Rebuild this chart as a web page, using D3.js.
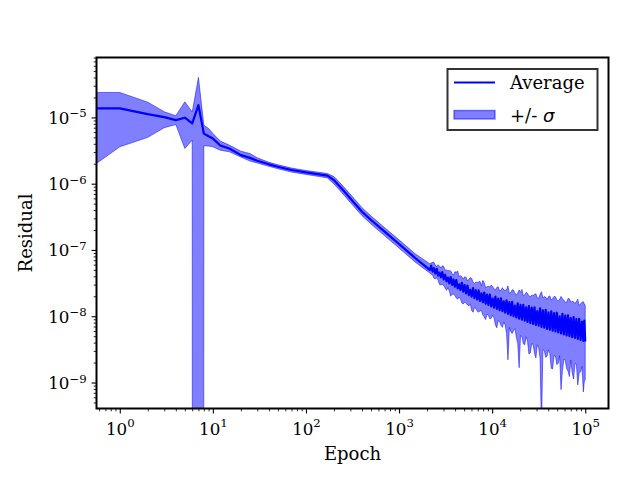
<!DOCTYPE html>
<html><head><meta charset="utf-8">
<script src="https://cdn.jsdelivr.net/npm/d3@7"></script>
<style>body{margin:0;background:#fff}</style>
</head><body>
<script>
// ---- data ----
const epochs = [0.5,1,2,3,4,5,6,7,8,9,10,12,15,20,25,30,40,50,70,100,150,170,200,250,300,400,500,700,1000,1500,
 2138,2213,2291,2371,2455,2541,2630,2723,2818,2917,3020,3126,3236,3350,3467,3589,3715,3846,3981,4121,
 4266,4416,4571,4732,4898,5070,5248,5433,5623,5821,6026,6237,6457,6683,6918,7161,7413,7674,7943,8222,
 8511,8810,9120,9441,9772,10116,10471,10839,11220,11614,12023,12445,12882,13335,13804,14289,14791,15311,15849,16406,
 16982,17579,18197,18836,19498,20184,20893,21627,22387,23174,23988,24831,25704,26607,27542,28510,29512,30549,31623,32734,
 33884,35075,36308,37584,38905,40272,41687,43152,44668,46238,47863,49545,51286,53088,54954,56885,58884,60954,63096,65313,
 67608,69984,72444,74989,77625,80353,83176,86099,89125,92257,95499,97724,100000];

const averageResidual = [1.37e-5,1.37e-5,1.12e-5,1.01e-5,9.1e-6,9.9e-6,8.1e-6,1.53e-5,5.7e-6,5.2e-6,4.8e-6,3.76e-6,3.39e-6,2.70e-6,2.45e-6,2.22e-6,1.96e-6,1.80e-6,1.61e-6,1.48e-6,1.36e-6,1.32e-6,1.13e-6,8.0e-7,6.0e-7,3.78e-7,2.83e-7,1.89e-7,1.23e-7,7.5e-8,
 4.99e-8,5.79e-8,4.72e-8,5.31e-8,4.43e-8,5.18e-8,4.13e-8,4.56e-8,3.87e-8,4.63e-8,
 3.6e-8,4.22e-8,3.37e-8,3.84e-8,3.14e-8,3.89e-8,2.97e-8,3.57e-8,2.79e-8,3.51e-8,
 2.64e-8,3.03e-8,2.49e-8,3.2e-8,2.35e-8,2.95e-8,2.21e-8,2.91e-8,2.09e-8,2.5e-8,
 1.98e-8,2.65e-8,1.88e-8,2.47e-8,1.79e-8,2.46e-8,1.71e-8,2.21e-8,1.63e-8,2.28e-8,
 1.55e-8,2.12e-8,1.48e-8,2.12e-8,1.41e-8,1.84e-8,1.35e-8,1.98e-8,1.29e-8,1.85e-8,
 1.24e-8,1.86e-8,1.19e-8,1.68e-8,1.13e-8,1.74e-8,1.09e-8,1.63e-8,1.04e-8,1.65e-8,
 1.0e-8,1.45e-8,9.6e-9,1.57e-8,9.2e-9,1.48e-8,8.9e-9,1.49e-8,8.55e-9,1.36e-8,
 8.25e-9,1.42e-8,7.9e-9,1.35e-8,7.65e-9,1.36e-8,7.4e-9,1.2e-8,7.2e-9,1.31e-8,
 6.9e-9,1.23e-8,6.7e-9,1.25e-8,6.45e-9,1.14e-8,6.25e-9,1.19e-8,6.05e-9,1.12e-8,
 5.9e-9,1.13e-8,5.7e-9,1.0e-8,5.5e-9,1.085e-8,5.3e-9,1.02e-8,5.15e-9,1.03e-8,
 5.0e-9,9.35e-9,4.85e-9,9.7e-9,4.7e-9,9.05e-9,4.55e-9,9.1e-9,4.4e-9,8.25e-9,
 4.25e-9,8.6e-9,4.15e-9];

const upperResidual = [2.38e-5,2.38e-5,1.70e-5,1.22e-5,1.06e-5,1.72e-5,1.21e-5,4.0e-5,7.66e-6,6.8e-6,5.74e-6,4.4e-6,3.82e-6,3.1e-6,2.85e-6,2.46e-6,2.10e-6,1.93e-6,1.72e-6,1.58e-6,1.46e-6,1.42e-6,1.28e-6,9.2e-7,6.9e-7,4.35e-7,3.25e-7,2.17e-7,1.42e-7,8.7e-8,
 6.2e-8,6.37e-8,6.5e-8,6.5e-8,5.95e-8,5.57e-8,6.0e-8,5.68e-8,5.35e-8,5.78e-8,
 5.64e-8,4.94e-8,4.99e-8,4.87e-8,4.91e-8,4.81e-8,4.4e-8,4.16e-8,4.7e-8,4.6e-8,
 4.83e-8,3.97e-8,4.1e-8,3.95e-8,3.62e-8,3.94e-8,3.88e-8,3.42e-8,3.6e-8,3.83e-8,
 3.72e-8,3.29e-8,3.13e-8,3.29e-8,3.24e-8,3.29e-8,3.36e-8,2.88e-8,3.48e-8,3.19e-8,
 2.72e-8,2.78e-8,2.83e-8,2.78e-8,2.95e-8,2.82e-8,2.6e-8,2.48e-8,2.72e-8,2.78e-8,
 2.4e-8,2.46e-8,2.7e-8,2.49e-8,2.46e-8,2.52e-8,2.87e-8,2.22e-8,2.28e-8,2.5e-8,
 2.49e-8,2.21e-8,2.12e-8,2.25e-8,2.49e-8,2.3e-8,2.54e-8,2.04e-8,2.1e-8,2.3e-8,
 2.2e-8,2.04e-8,1.96e-8,2.08e-8,2.07e-8,2.13e-8,2.19e-8,1.88e-8,1.87e-8,2.14e-8,
 2.35e-8,1.89e-8,1.99e-8,1.94e-8,1.79e-8,1.98e-8,2.03e-8,1.75e-8,1.86e-8,1.99e-8,
 1.97e-8,1.76e-8,1.69e-8,1.8e-8,1.99e-8,1.84e-8,1.76e-8,1.63e-8,1.62e-8,1.85e-8,
 1.83e-8,1.63e-8,1.68e-8,1.65e-8,1.57e-8,1.66e-8,1.81e-8,1.45e-8,1.54e-8,1.63e-8,
 1.66e-8,1.53e-8,1.48e-8];

const lowerResidual = [1.8e-6,3.6e-6,5.0e-6,7.0e-6,7.8e-6,3.4e-6,4.55e-6,-9.4e-6,3.74e-6,3.7e-6,3.6e-6,3.2e-6,3.03e-6,2.52e-6,2.2e-6,2.05e-6,1.83e-6,1.68e-6,1.50e-6,1.38e-6,1.26e-6,1.22e-6,9.9e-7,7.0e-7,5.2e-7,3.29e-7,2.46e-7,1.64e-7,1.07e-7,6.5e-8,
 4.5e-8,4.32e-8,4.2e-8,3.73e-8,3.68e-8,3.77e-8,3.5e-8,3.0e-8,2.97e-8,3.03e-8,
 2.9e-8,2.67e-8,2.46e-8,2.7e-8,2.4e-8,2.01e-8,2.15e-8,2.15e-8,2.07e-8,1.88e-8,
 1.81e-8,1.94e-8,1.82e-8,1.58e-8,1.53e-8,1.64e-8,1.58e-8,1.48e-8,1.43e-8,1.54e-8,
 1.22e-8,1.15e-8,1.35e-8,1.31e-8,1.19e-8,1.155e-8,1.2e-8,1.22e-8,1.04e-8,9.8e-9,
 8.9e-9,1.07e-8,1.04e-8,9.15e-9,9.3e-9,1.03e-8,9.5e-9,7.4e-9,6.7e-9,8.55e-9,
 8.3e-9,7.3e-9,6.8e-9,8.2e-9,7.4e-9,5.45e-9,2.2e-9,6.78e-9,5.9e-9,5.5e-9,
 6.1e-9,6.5e-9,4.8e-9,3.87e-9,1.67e-9,5.1e-9,4.9e-9,3.84e-9,3.7e-9,4.9e-9,
 4.25e-9,2.7e-9,2.8e-9,3.85e-9,3.75e-9,2.77e-9,2.35e-9,3.7e-9,3.35e-9,2.33e-9,
 2e-10,3.12e-9,3.05e-9,2.4e-9,2.5e-9,3.11e-9,2.73e-9,1.64e-9,1.6e-9,2.56e-9,
 2.5e-9,1.86e-9,1.96e-9,2.54e-9,7.8e-10,1.5e-9,2.25e-9,2.2e-9,1.63e-9,1.49e-9,
 1.23e-9,2.18e-9,1.41e-9,1.13e-9,1.93e-9,1.89e-9,9.2e-10,1.38e-9,1.45e-9,1.75e-9,
 7.2e-10,1.04e-9,1.1e-9];

const xTickExponents = [0,1,2,3,4,5];
const yTickExponents = [-9,-8,-7,-6,-5];
const xLabel = "Epoch";
const yLabel = "Residual";
const legendAverage = "Average";
const legendBand = "+/- ";
const legendSigma = "σ";

// ---- layout ----
const W = 640, H = 480;
const plotLeft = 96.5, plotTop = 57.5, iw = 512, ih = 351;
const SERIF = "DejaVu Serif, Liberation Serif, serif";

const svg = d3.select("body").append("svg").attr("width", W).attr("height", H)
  .style("display","block");
svg.append("rect").attr("width", W).attr("height", H).attr("fill", "#fff");

const x = d3.scaleLog().domain([Math.pow(10,-0.25), Math.pow(10,5.25)]).range([0, iw]);
const y = d3.scaleLog().domain([Math.pow(10,-9.392), Math.pow(10,-4.096)]).range([ih, 0]);
const Y = v => v > 0 ? y(v) : y(1e-300);

const g = svg.append("g").attr("transform", `translate(${plotLeft},${plotTop})`);
g.append("clipPath").attr("id","clip").append("rect").attr("width", iw).attr("height", ih);

const rows = epochs.map((e,i) => ({e, a: averageResidual[i], u: upperResidual[i], l: lowerResidual[i]}));

const plot = g.append("g").attr("clip-path","url(#clip)");
plot.append("path").datum(rows)
  .attr("d", d3.area().x(d => x(d.e)).y0(d => Y(d.l)).y1(d => Y(d.u)))
  .attr("fill", "blue").attr("fill-opacity", 0.5)
  .attr("stroke", "blue").attr("stroke-opacity", 0.5).attr("stroke-width", 1.0)
  .attr("stroke-linejoin","round");
plot.append("path").datum(rows)
  .attr("d", d3.line().x(d => x(d.e)).y(d => Y(d.a)))
  .attr("fill", "none").attr("stroke", "blue").attr("stroke-width", 2.2)
  .attr("stroke-linejoin","round");

// ---- axes ----
const isPow10 = v => Math.abs(Math.log10(v) - Math.round(Math.log10(v))) < 1e-9;
const xMinor = x.ticks().filter(v => !isPow10(v));
const yMinor = y.ticks().filter(v => !isPow10(v));
const xMajor = xTickExponents.map(p => Math.pow(10, p));
const yMajor = yTickExponents.map(p => Math.pow(10, p));

function styleAxis(sel, w) {
  sel.select(".domain").remove();
  sel.selectAll(".tick line").attr("stroke", "#000").attr("stroke-width", w);
}
g.append("g").attr("transform", `translate(0,${ih})`)
  .call(d3.axisBottom(x).tickValues(xMinor).tickSize(2.8).tickFormat(""))
  .call(s => styleAxis(s, 0.85));
g.append("g")
  .call(d3.axisLeft(y).tickValues(yMinor).tickSize(2.8).tickFormat(""))
  .call(s => styleAxis(s, 0.85));

const xAx = g.append("g").attr("transform", `translate(0,${ih})`)
  .call(d3.axisBottom(x).tickValues(xMajor).tickSize(4.9).tickFormat(""))
  .call(s => styleAxis(s, 1.1));
xAx.selectAll(".tick").each(function(d, i) {
  const t = d3.select(this).append("text").attr("y", 26).attr("text-anchor","middle")
    .attr("font-family", SERIF).attr("font-size", 16.7).attr("fill", "#000");
  t.append("tspan").text("10");
  t.append("tspan").attr("dy", -7.5).attr("font-size", 11.7).text(String(xTickExponents[i]));
});
const yAx = g.append("g")
  .call(d3.axisLeft(y).tickValues(yMajor).tickSize(4.9).tickFormat(""))
  .call(s => styleAxis(s, 1.1));
yAx.selectAll(".tick").each(function(d, i) {
  const t = d3.select(this).append("text").attr("x", -9.8).attr("y", 6).attr("text-anchor","end")
    .attr("font-family", SERIF).attr("font-size", 16.7).attr("fill", "#000");
  t.append("tspan").text("10");
  t.append("tspan").attr("dy", -6.5).attr("font-size", 11.7).text("\u2212" + Math.abs(yTickExponents[i]));
});

// frame
g.append("rect").attr("width", iw).attr("height", ih).attr("fill","none")
  .attr("stroke","#000").attr("stroke-width", 2);

// axis labels
svg.append("text").attr("x", plotLeft + iw/2).attr("y", 459.5).attr("text-anchor","middle")
  .attr("font-family", SERIF).attr("font-size", 18).text(xLabel);
svg.append("text").attr("transform", `translate(31.5,${plotTop + ih/2}) rotate(-90)`).attr("text-anchor","middle")
  .attr("font-family", SERIF).attr("font-size", 18).text(yLabel);

// legend
const lg = svg.append("g");
lg.append("rect").attr("x", 447.5).attr("y", 69).attr("width", 150).attr("height", 61)
  .attr("fill","#fff").attr("stroke","#333").attr("stroke-width", 2);
lg.append("line").attr("x1", 454).attr("x2", 495).attr("y1", 82.5).attr("y2", 82.5)
  .attr("stroke","blue").attr("stroke-width", 2.1);
lg.append("rect").attr("x", 454).attr("y", 110.5).attr("width", 41).attr("height", 8.5)
  .attr("fill","blue").attr("fill-opacity",0.5).attr("stroke","blue").attr("stroke-opacity",0.5).attr("stroke-width",1.4);
lg.append("text").attr("x", 510).attr("y", 88.8).attr("font-family", SERIF).attr("font-size", 18).text(legendAverage);
const lt = lg.append("text").attr("x", 510).attr("y", 121.5).attr("font-family", SERIF).attr("font-size", 18);
lt.append("tspan").text(legendBand);
lt.append("tspan").attr("font-family","DejaVu Sans").attr("font-style","italic").text(legendSigma);
</script>
</body></html>
